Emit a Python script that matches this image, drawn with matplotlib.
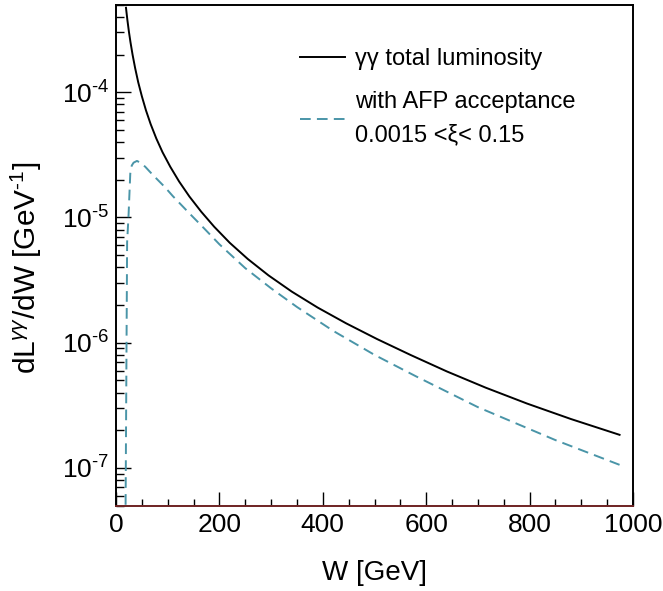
import numpy as np
import matplotlib
matplotlib.use("Agg")
import matplotlib.pyplot as plt
from matplotlib.ticker import MultipleLocator, LogLocator, FuncFormatter, NullFormatter

plt.rcParams['font.family'] = ['Liberation Sans', 'DejaVu Sans']
plt.rcParams['mathtext.fontset'] = 'custom'
plt.rcParams['mathtext.rm'] = 'Liberation Sans'
plt.rcParams['mathtext.it'] = 'Liberation Sans:italic'
plt.rcParams['mathtext.sf'] = 'Liberation Sans'

# ---- data ----
w_total = [19.3, 22, 25, 28, 32, 37, 43, 50, 58, 67, 78, 90, 105, 122, 142, 165, 190, 220,
           255, 295, 340, 390, 445, 505, 570, 640, 715, 795, 880, 974]
lumi_total = [4.73e-4, 3.78e-4, 3.04e-4, 2.51e-4, 2.00e-4, 1.56e-4, 1.20e-4, 9.29e-5, 7.16e-5,
              5.57e-5, 4.27e-5, 3.32e-5, 2.54e-5, 1.94e-5, 1.47e-5, 1.11e-5, 8.43e-6, 6.28e-6,
              4.66e-6, 3.45e-6, 2.56e-6, 1.91e-6, 1.43e-6, 1.07e-6, 7.98e-7, 5.90e-7, 4.38e-7,
              3.27e-7, 2.46e-7, 1.84e-7]

w_afp = [18.0, 21.5, 24.3, 27.6, 30.5, 34, 40.5, 47, 56.6, 65, 75, 95, 110, 140, 170, 200,
         250, 300, 350, 420, 500, 580, 700, 850, 974]
lumi_afp = [2e-8, 6.31e-6, 1.047e-5, 2.24e-5, 2.60e-5, 2.74e-5, 2.83e-5, 2.74e-5, 2.54e-5,
            2.33e-5, 2.11e-5, 1.74e-5, 1.48e-5, 1.10e-5, 8.22e-6, 6.11e-6, 3.94e-6, 2.72e-6,
            1.93e-6, 1.245e-6, 8.0e-7, 5.40e-7, 3.06e-7, 1.67e-7, 1.06e-7]

label_total = "γγ total luminosity"
label_afp = "with AFP acceptance\n0.0015 <ξ< 0.15"
xlabel = "W [GeV]"
ylabel = r"dL$^{\gamma\gamma}$/dW [GeV$^{\mathrm{‐1}}$]"

x_range = (0, 1000)
y_range = (5e-8, 5e-4)

# ---- figure ----
fig = plt.figure(figsize=(6.63, 5.91), dpi=100)
ax = fig.add_axes([116/663, 1 - 505.7/591, (633 - 116)/663, (505.7 - 4.7)/591])

ax.plot(w_total, lumi_total, color='black', lw=1.4, label=label_total)
ax.plot(w_afp, lumi_afp, color='#4a95a8', lw=1.4, dashes=(5.5, 3.2), label=label_afp)

ax.set_yscale('log')
ax.set_xlim(*x_range)
ax.set_ylim(*y_range)

ax.xaxis.set_major_locator(MultipleLocator(200))
ax.xaxis.set_minor_locator(MultipleLocator(50))
ax.yaxis.set_major_locator(LogLocator(base=10))
ax.yaxis.set_minor_locator(LogLocator(base=10, subs=np.arange(2, 10)))
ax.yaxis.set_minor_formatter(NullFormatter())
ax.yaxis.set_major_formatter(FuncFormatter(
    lambda v, p: r"10$^{\mathrm{‐%d}}$" % int(round(-np.log10(v)))))

ax.tick_params(which='both', direction='in', top=False, right=False, labelsize=19, width=1.0, color='black')
ax.tick_params(axis='x', which='major', length=10, pad=5)
ax.tick_params(axis='x', which='minor', length=5)
ax.tick_params(axis='y', which='major', length=11, pad=5)
ax.tick_params(axis='y', which='minor', length=5.5)

for s in ax.spines.values():
    s.set_linewidth(1.4)
ax.spines['bottom'].set_color('#6e2323')

ax.set_xlabel(xlabel, fontsize=20, labelpad=17)
ax.set_ylabel(ylabel, fontsize=21.5)
ax.yaxis.set_label_coords(-0.139, 0.4745)

leg = ax.legend(loc='upper left', bbox_to_anchor=(0.356, 0.914), frameon=False, fontsize=17,
                handlelength=1.9, handletextpad=0.42, borderpad=0, borderaxespad=0, labelspacing=0.91)
for t in leg.get_texts():
    t.set_linespacing(1.67)

fig.savefig("out.png", dpi=100)
